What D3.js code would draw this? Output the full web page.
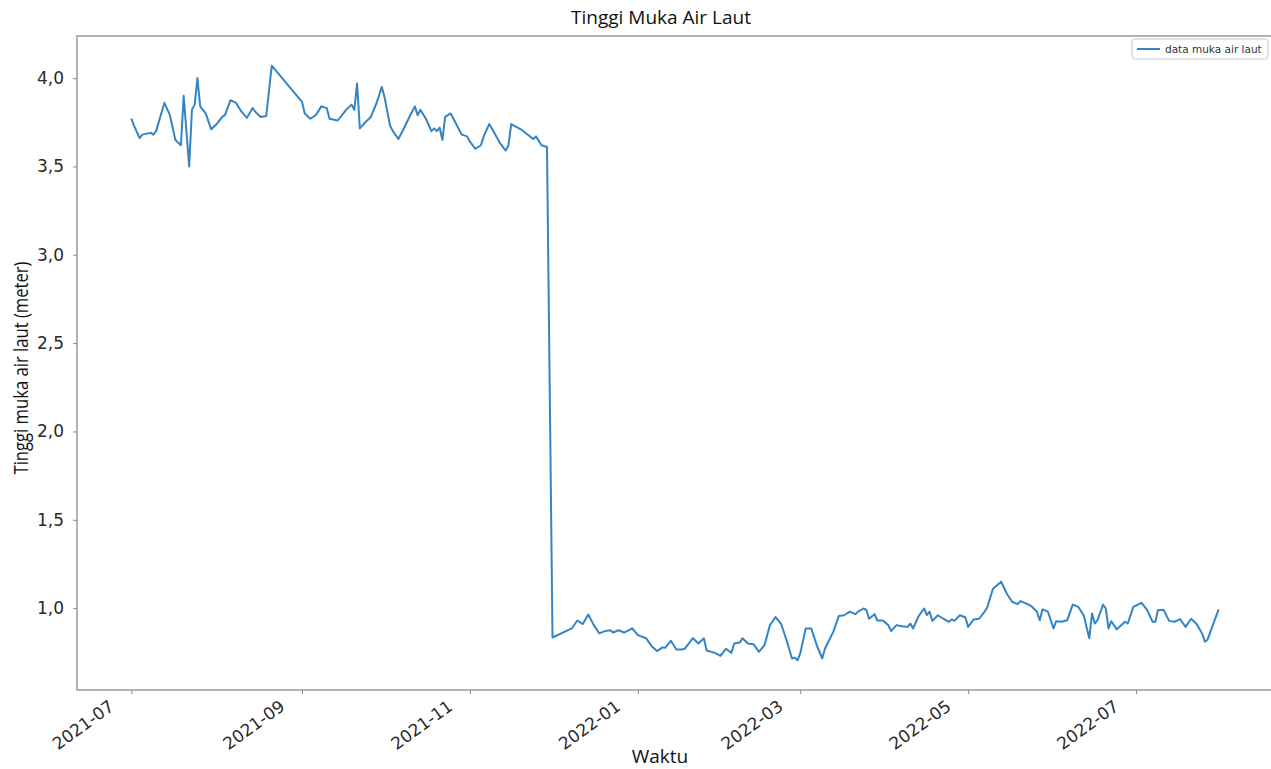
<!DOCTYPE html>
<html>
<head>
<meta charset="utf-8">
<script src="https://cdn.jsdelivr.net/npm/d3@7"></script>
<style>
  body { margin: 0; background: #fff; }
  svg { display: block; }
</style>
</head>
<body>
<div id="chart"></div>
<script>
// tanggal dan tinggi muka air laut (meter)
var dates = [
  "2021-07-01","2021-07-02","2021-07-04","2021-07-05","2021-07-08","2021-07-09","2021-07-10","2021-07-13",
  "2021-07-15","2021-07-17","2021-07-19","2021-07-20","2021-07-22","2021-07-23","2021-07-24","2021-07-25",
  "2021-07-26","2021-07-28","2021-07-30","2021-08-01","2021-08-03","2021-08-04","2021-08-06","2021-08-08",
  "2021-08-10","2021-08-12","2021-08-14","2021-08-15","2021-08-17","2021-08-19","2021-08-21","2021-09-01",
  "2021-09-02","2021-09-04","2021-09-06","2021-09-08","2021-09-10","2021-09-11","2021-09-14","2021-09-17",
  "2021-09-19","2021-09-20","2021-09-21","2021-09-22","2021-09-24","2021-09-26","2021-09-28","2021-09-30",
  "2021-10-01","2021-10-03","2021-10-04","2021-10-06","2021-10-08","2021-10-10","2021-10-12","2021-10-13",
  "2021-10-14","2021-10-16","2021-10-18","2021-10-19","2021-10-20","2021-10-21","2021-10-22","2021-10-23",
  "2021-10-25","2021-10-27","2021-10-29","2021-10-31","2021-11-01","2021-11-03","2021-11-05","2021-11-06",
  "2021-11-08","2021-11-09","2021-11-12","2021-11-14","2021-11-15","2021-11-16","2021-11-20","2021-11-24",
  "2021-11-25","2021-11-27","2021-11-29","2021-12-01",
  "2021-12-08","2021-12-10","2021-12-12","2021-12-14","2021-12-16","2021-12-18","2021-12-20","2021-12-22",
  "2021-12-23","2021-12-25","2021-12-27","2021-12-30","2022-01-01","2022-01-04","2022-01-06","2022-01-08",
  "2022-01-10","2022-01-11","2022-01-13","2022-01-15","2022-01-17","2022-01-18","2022-01-21","2022-01-23",
  "2022-01-25","2022-01-26","2022-01-29","2022-01-31","2022-02-02","2022-02-04","2022-02-05","2022-02-07",
  "2022-02-08","2022-02-10","2022-02-12","2022-02-14","2022-02-16","2022-02-18","2022-02-20","2022-02-22",
  "2022-02-24","2022-02-26","2022-02-27","2022-02-28","2022-03-01","2022-03-03","2022-03-05","2022-03-07",
  "2022-03-09","2022-03-10","2022-03-13","2022-03-15","2022-03-17","2022-03-19","2022-03-21","2022-03-22",
  "2022-03-24","2022-03-25","2022-03-26","2022-03-28","2022-03-29","2022-03-31","2022-04-02","2022-04-03",
  "2022-04-05","2022-04-07","2022-04-09","2022-04-10","2022-04-11","2022-04-13","2022-04-15","2022-04-16",
  "2022-04-17","2022-04-18","2022-04-20","2022-04-22","2022-04-24","2022-04-25","2022-04-26","2022-04-28",
  "2022-04-30","2022-05-01","2022-05-03","2022-05-05","2022-05-07","2022-05-08","2022-05-10","2022-05-13",
  "2022-05-15","2022-05-17","2022-05-19","2022-05-20","2022-05-22","2022-05-24","2022-05-26","2022-05-27",
  "2022-05-28","2022-05-30","2022-05-31","2022-06-01","2022-06-02","2022-06-04","2022-06-06","2022-06-08",
  "2022-06-10","2022-06-12","2022-06-13","2022-06-14","2022-06-15","2022-06-16","2022-06-17","2022-06-19",
  "2022-06-20","2022-06-21","2022-06-22","2022-06-24","2022-06-27","2022-06-28","2022-06-30","2022-07-03",
  "2022-07-05","2022-07-07","2022-07-08","2022-07-09","2022-07-11","2022-07-13","2022-07-15","2022-07-17",
  "2022-07-19","2022-07-21","2022-07-23","2022-07-25","2022-07-26","2022-07-27","2022-07-31"
];
var values = [
  3.77,3.73,3.66,3.68,3.69,3.68,3.70,3.86,
  3.79,3.65,3.62,3.90,3.50,3.82,3.85,4.00,
  3.84,3.80,3.71,3.74,3.78,3.79,3.875,3.86,
  3.81,3.775,3.83,3.81,3.78,3.785,4.07,3.865,
  3.80,3.77,3.79,3.84,3.83,3.77,3.76,3.82,
  3.85,3.82,3.97,3.715,3.75,3.78,3.855,3.95,
  3.89,3.73,3.70,3.655,3.715,3.78,3.84,3.79,
  3.82,3.77,3.70,3.715,3.70,3.72,3.65,3.78,
  3.80,3.74,3.68,3.67,3.64,3.60,3.62,3.67,
  3.74,3.715,3.63,3.59,3.62,3.74,3.705,3.655,
  3.67,3.62,3.61,0.834,
  0.885,0.93,0.91,0.964,0.904,0.857,0.87,0.875,
  0.862,0.875,0.862,0.885,0.847,0.83,0.785,0.757,
  0.778,0.776,0.815,0.766,0.766,0.77,0.83,0.80,
  0.83,0.76,0.747,0.73,0.77,0.747,0.80,0.805,
  0.83,0.80,0.796,0.753,0.79,0.904,0.95,0.913,
  0.82,0.715,0.72,0.705,0.744,0.885,0.885,0.79,
  0.715,0.772,0.866,0.955,0.96,0.98,0.966,0.98,
  0.998,0.99,0.94,0.966,0.93,0.93,0.904,0.87,
  0.904,0.898,0.894,0.913,0.885,0.955,0.998,0.96,
  0.98,0.928,0.96,0.94,0.923,0.936,0.928,0.96,
  0.947,0.894,0.936,0.94,0.98,1.007,1.11,1.15,
  1.083,1.036,1.023,1.04,1.027,1.011,0.98,0.932,
  0.993,0.98,0.932,0.885,0.926,0.923,0.932,1.02,
  1.007,0.96,0.894,0.83,0.97,0.913,0.932,1.02,
  0.998,0.885,0.926,0.88,0.923,0.913,1.007,1.03,
  0.99,0.923,0.923,0.99,0.99,0.928,0.923,0.938,
  0.894,0.94,0.91,0.857,0.81,0.823,0.993
];
var yTicks = [1.0, 1.5, 2.0, 2.5, 3.0, 3.5, 4.0];
var xTicks = ["2021-07-01","2021-09-01","2021-11-01","2022-01-01","2022-03-01","2022-05-01","2022-07-01"];

var W = 1271, H = 769;
var pL = 77, pR = 1273, pT = 36, pB = 690;
var parse = d3.timeParse("%Y-%m-%d");
var data = dates.map(function (d, i) { return { t: parse(d), v: values[i] }; });

var svg = d3.select("#chart").append("svg")
    .attr("width", W)
    .attr("height", H);

svg.append("rect").attr("width", W).attr("height", H).attr("fill", "#fff");

// margin 5% seperti matplotlib
var tExt = d3.extent(data, function (d) { return d.t; });
var tPad = (tExt[1] - tExt[0]) * 0.05;
var x = d3.scaleTime()
    .domain([new Date(+tExt[0] - tPad), new Date(+tExt[1] + tPad)])
    .range([pL, pR]);
var vExt = d3.extent(values);
var vPad = (vExt[1] - vExt[0]) * 0.05;
var y = d3.scaleLinear()
    .domain([vExt[0] - vPad, vExt[1] + vPad])
    .range([pB, pT]);

// bingkai
svg.append("rect")
    .attr("x", pL).attr("y", pT)
    .attr("width", pR - pL).attr("height", pB - pT)
    .attr("fill", "none")
    .attr("stroke", "#8a8a8a")
    .attr("stroke-width", 1.3);

var fmtY = function (d) { return d.toFixed(1).replace(".", ","); };
var yAxis = svg.append("g")
    .attr("transform", "translate(" + pL + ",0)")
    .call(d3.axisLeft(y).tickValues(yTicks).tickFormat(fmtY).tickSize(4).tickPadding(9));
yAxis.select(".domain").remove();
yAxis.selectAll("line").attr("stroke", "#8a8a8a");
yAxis.selectAll("text")
    .attr("font-family", "DejaVu Sans, Verdana, sans-serif")
    .attr("font-size", "17px")
    .attr("fill", "#2a2a2a");

var xAxis = svg.append("g")
    .attr("transform", "translate(0," + pB + ")")
    .call(d3.axisBottom(x).tickValues(xTicks.map(parse)).tickFormat(d3.timeFormat("%Y-%m")).tickSize(4));
xAxis.select(".domain").remove();
xAxis.selectAll("line").attr("stroke", "#8a8a8a");
xAxis.selectAll("text")
    .attr("font-family", "DejaVu Sans, Verdana, sans-serif")
    .attr("font-size", "17px")
    .attr("fill", "#2a2a2a")
    .attr("text-anchor", "end")
    .attr("dy", "0.35em")
    .attr("y", 0)
    .attr("transform", "translate(-20,14) rotate(-36)");

var line = d3.line()
    .x(function (d) { return x(d.t); })
    .y(function (d) { return y(d.v); });

svg.append("path")
    .datum(data)
    .attr("d", line)
    .attr("fill", "none")
    .attr("stroke", "#3584c3")
    .attr("stroke-width", 2)
    .attr("stroke-linejoin", "round");

// judul dan label
svg.append("text")
    .attr("x", 661).attr("y", 24)
    .attr("text-anchor", "middle")
    .attr("font-family", "Open Sans, sans-serif")
    .attr("font-size", "19px")
    .attr("fill", "#111")
    .text("Tinggi Muka Air Laut");

svg.append("text")
    .attr("x", 660).attr("y", 763)
    .attr("text-anchor", "middle")
    .attr("font-family", "Open Sans, sans-serif")
    .attr("font-size", "19px")
    .attr("fill", "#111")
    .text("Waktu");

svg.append("text")
    .attr("transform", "translate(28,368) rotate(-90)")
    .attr("text-anchor", "middle")
    .attr("font-family", "Open Sans, sans-serif")
    .attr("font-size", "20px")
    .attr("textLength", 213)
    .attr("lengthAdjust", "spacingAndGlyphs")
    .attr("fill", "#111")
    .text("Tinggi muka air laut (meter)");

// legenda
var lg = svg.append("g").attr("transform", "translate(1132,39)");
lg.append("rect")
    .attr("width", 136).attr("height", 20).attr("rx", 3)
    .attr("fill", "#fff").attr("stroke", "#c8c8c8");
lg.append("line")
    .attr("x1", 5).attr("x2", 28).attr("y1", 10).attr("y2", 10)
    .attr("stroke", "#3584c3").attr("stroke-width", 2);
lg.append("text")
    .attr("x", 33).attr("y", 14)
    .attr("font-family", "DejaVu Sans, sans-serif")
    .attr("font-size", "10.5px")
    .attr("fill", "#333")
    .text("data muka air laut");
</script>
</body>
</html>
